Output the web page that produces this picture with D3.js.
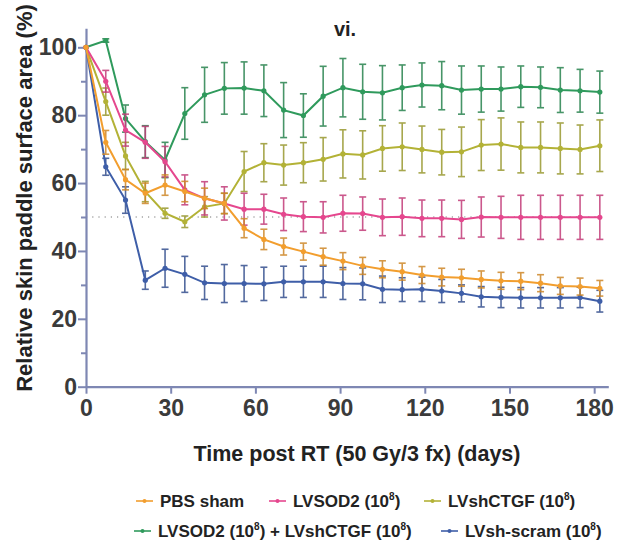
<!DOCTYPE html>
<html>
<head>
<meta charset="utf-8">
<script src="https://cdn.jsdelivr.net/npm/d3@7"></script>
<style>
  html, body { margin: 0; padding: 0; background: #fff; }
  text { font-family: "Liberation Sans", Arial, Helvetica, sans-serif; font-weight: bold; }
</style>
</head>
<body>
<script>
// Days after irradiation (weekly measurements)
const days = [0, 7, 14, 21, 28, 35, 42, 49, 56, 63, 70, 77, 84, 91, 98, 105, 112, 119, 126, 133, 140, 147, 154, 161, 168, 175, 182];

// Mean relative skin paddle surface area (%) per group, with SEM
const pbsSham = [100, 72, 61, 57, 59.4, 57.5, 55.5, 54, 46.7, 43.4, 41.3, 39.8, 38.3, 37.0, 35.6, 34.6, 33.9, 32.9, 32.3, 32.1, 31.6, 31.2, 31.1, 30.5, 29.7, 29.5, 29.0];
const pbsShamErr = [0, 3.5, 3, 3, 3, 3, 3, 3, 2.8, 3, 2.5, 2.5, 2.5, 2.5, 2.5, 2.5, 2.5, 2.5, 2.6, 2.5, 2.5, 2.5, 2.5, 2.5, 2.5, 2.5, 2.3];

const lvSod2 = [100, 90, 75.6, 72, 66.3, 58, 55.5, 54, 52.3, 52.3, 50.8, 50.1, 49.9, 51.1, 51.0, 49.9, 50.1, 49.6, 49.6, 49.3, 50.0, 49.9, 49.9, 49.9, 49.9, 49.9, 49.9];
const lvSod2Err = [0, 3.2, 4.7, 4.7, 4.5, 4.4, 4.9, 4.9, 4.7, 4.4, 4.8, 4.4, 4.6, 5.3, 4.9, 5.4, 5.5, 5.4, 5.4, 5.6, 5.9, 6.2, 6.5, 6.5, 6.5, 6.5, 6.5];

const lvShCtgf = [100, 84, 68, 57.5, 51.1, 48.6, 53, 54, 63.4, 66.0, 65.3, 66.0, 67.0, 68.6, 68.3, 70.2, 70.7, 69.9, 69.1, 69.2, 71.2, 71.5, 70.5, 70.5, 70.2, 69.9, 71.0];
const lvShCtgfErr = [0, 4, 4, 3, 1.5, 1.7, 3, 3, 5.9, 5.6, 5.9, 5.9, 6.4, 7.1, 7.1, 6.7, 7.0, 6.9, 6.7, 7.3, 7.5, 7.7, 7.5, 7.5, 7.5, 7.2, 7.6];

const lvCombo = [100, 102, 79, 72.2, 66.8, 80.5, 86, 87.9, 88, 87.2, 81.5, 79.9, 85.6, 88.1, 86.9, 86.6, 88.1, 88.9, 88.7, 87.4, 87.7, 87.7, 88.4, 88.2, 87.4, 87.2, 86.8];
const lvComboErr = [0, 0.5, 4, 4.7, 5.2, 7.6, 8.1, 7.6, 7.7, 7.6, 8.1, 6.4, 8.8, 8.6, 8.1, 8.0, 6.7, 6.5, 7.1, 7.1, 6.8, 6.5, 6.1, 6.0, 6.6, 6.3, 6.2];

const lvShScram = [100, 64.8, 55, 31.4, 34.9, 33.1, 30.6, 30.4, 30.4, 30.3, 30.9, 30.9, 30.9, 30.4, 30.3, 28.7, 28.6, 28.7, 28.2, 27.5, 26.5, 26.3, 26.2, 26.2, 26.2, 26.3, 25.2];
const lvShScramErr = [0, 2.5, 3.9, 2.7, 5.6, 5.3, 4.9, 5.6, 5.3, 4.9, 4.6, 4.6, 4.6, 4.7, 4.7, 3.9, 3.5, 3.6, 3.4, 2.5, 3.0, 3.0, 3.0, 3.0, 3.0, 3.0, 3.2];

const xTicks = [0, 30, 60, 90, 120, 150, 180];
const yTicks = [0, 20, 40, 60, 80, 100];
const yMinorTicks = [10, 30, 50, 70, 90];
const referenceLevel = 50;

const groups = [
  { name: "LVSOD2 + LVshCTGF", values: lvCombo, err: lvComboErr, color: "#2f9a5c" },
  { name: "LVshCTGF", values: lvShCtgf, err: lvShCtgfErr, color: "#b3b236" },
  { name: "LVsh-scram", values: lvShScram, err: lvShScramErr, color: "#3e5ea8" },
  { name: "LVSOD2", values: lvSod2, err: lvSod2Err, color: "#e5478e" },
  { name: "PBS sham", values: pbsSham, err: pbsShamErr, color: "#f29e2e" }
];

// Legend entries: label pieces (odd pieces are superscripts), colour, row, left x of text
const legendItems = [
  { parts: ["PBS sham"], color: "#f29e2e", row: 0, x: 160 },
  { parts: ["LVSOD2 (10", "8", ")"], color: "#e5478e", row: 0, x: 293 },
  { parts: ["LVshCTGF (10", "8", ")"], color: "#b3b236", row: 0, x: 448 },
  { parts: ["LVSOD2 (10", "8", ") + LVshCTGF (10", "8", ")"], color: "#2f9a5c", row: 1, x: 158 },
  { parts: ["LVsh-scram (10", "8", ")"], color: "#3e5ea8", row: 1, x: 465 }
];

const W = 621, H = 548;
const axisColor = "#7e87b3";

const svg = d3.select("body").append("svg").attr("width", W).attr("height", H);

const x = d3.scaleLinear().domain([0, 185]).range([86, 608.3]);
const y = d3.scaleLinear().domain([0, 105.6]).range([386.7, 28.3]);

// Title
svg.append("text").attr("x", 345).attr("y", 36).attr("text-anchor", "middle")
  .attr("font-size", 20).attr("fill", "#222").text("vi.");

// Dotted reference line
svg.append("line")
  .attr("x1", x(0)).attr("x2", x(182))
  .attr("y1", y(referenceLevel)).attr("y2", y(referenceLevel))
  .attr("stroke", "#777").attr("stroke-width", 1.2).attr("stroke-dasharray", "1.2,5");

// Axes
function styleAxis(g) {
  g.select(".domain").attr("stroke", axisColor).attr("stroke-width", 2.2);
  g.selectAll(".tick line").attr("stroke", axisColor).attr("stroke-width", 2);
  g.selectAll(".tick text").attr("fill", "#3b3b3b").attr("font-size", 23)
    .attr("font-family", "'Liberation Sans', Arial, sans-serif").attr("font-weight", "bold");
}

const gy = svg.append("g").attr("transform", `translate(${x(0)},0)`)
  .call(d3.axisLeft(y).tickValues(yTicks).tickSize(8).tickPadding(1).tickSizeOuter(0));
styleAxis(gy);
const gyMinor = svg.append("g").attr("transform", `translate(${x(0)},0)`)
  .call(d3.axisLeft(y).tickValues(yMinorTicks).tickSize(5).tickFormat("").tickSizeOuter(0));
styleAxis(gyMinor);
gyMinor.select(".domain").remove();

const gx = svg.append("g").attr("transform", `translate(0,${y(0)})`)
  .call(d3.axisBottom(x).tickValues(xTicks).tickSize(7).tickPadding(6).tickSizeOuter(0));
styleAxis(gx);

// Axis titles
svg.append("text")
  .attr("transform", `translate(32,198) rotate(-90)`)
  .attr("text-anchor", "middle").attr("font-size", 22).attr("fill", "#222")
  .text("Relative skin paddle surface area (%)");

svg.append("text").attr("x", 357).attr("y", 461).attr("text-anchor", "middle")
  .attr("font-size", 21.5).attr("fill", "#222")
  .text("Time post RT (50 Gy/3 fx) (days)");

// Series
const line = d3.line().x(d => x(d.day)).y(d => y(d.v));
const capHalf = 3.5;

groups.forEach(grp => {
  const pts = days.map((day, i) => ({ day, v: grp.values[i], e: grp.err[i] }));
  const g = svg.append("g");
  const ebColor = d3.color(grp.color).darker(0.45).formatHex();
  const eb = g.append("g").attr("stroke", ebColor).attr("stroke-width", 1.6).attr("opacity", 0.85);
  pts.filter(p => p.e > 0).forEach(p => {
    eb.append("line").attr("x1", x(p.day)).attr("x2", x(p.day))
      .attr("y1", y(p.v - p.e)).attr("y2", y(p.v + p.e));
    eb.append("line").attr("x1", x(p.day) - capHalf).attr("x2", x(p.day) + capHalf)
      .attr("y1", y(p.v - p.e)).attr("y2", y(p.v - p.e));
    eb.append("line").attr("x1", x(p.day) - capHalf).attr("x2", x(p.day) + capHalf)
      .attr("y1", y(p.v + p.e)).attr("y2", y(p.v + p.e));
  });
  g.append("path").datum(pts).attr("d", line).attr("fill", "none")
    .attr("stroke", grp.color).attr("stroke-width", 2);
  g.selectAll("circle").data(pts).join("circle")
    .attr("cx", d => x(d.day)).attr("cy", d => y(d.v)).attr("r", 2.6)
    .attr("fill", grp.color);
});

// Legend
const rowY = [507, 537];
legendItems.forEach(item => {
  const cy = rowY[item.row] - 6;
  svg.append("line").attr("x1", item.x - 24).attr("x2", item.x - 7)
    .attr("y1", cy).attr("y2", cy).attr("stroke", item.color).attr("stroke-width", 1.6);
  svg.append("circle").attr("cx", item.x - 15.5).attr("cy", cy).attr("r", 2)
    .attr("fill", item.color);
  const t = svg.append("text").attr("x", item.x).attr("y", rowY[item.row])
    .attr("font-size", 17).attr("fill", "#222");
  item.parts.forEach((p, i) => {
    if (i % 2 === 1) {
      t.append("tspan").attr("font-size", 10).attr("dy", -7).text(p);
    } else {
      t.append("tspan").attr("dy", i === 0 ? 0 : 7).text(p);
    }
  });
});
</script>
</body>
</html>
